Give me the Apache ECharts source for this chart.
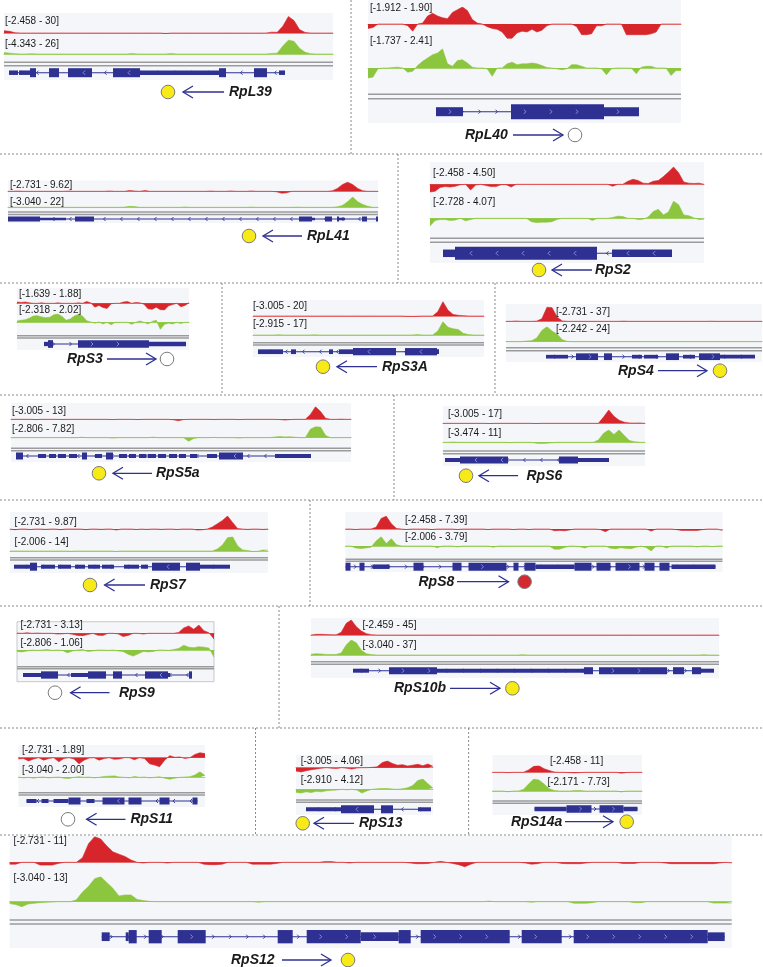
<!DOCTYPE html>
<html>
<head>
<meta charset="utf-8">
<script src="https://cdn.jsdelivr.net/npm/echarts@6/dist/echarts.min.js"></script>
<style>
  html, body { margin: 0; padding: 0; background: #fff; }
  #main { width: 763px; height: 967px; }
</style>
</head>
<body>
<div id="main"></div>
<script>
// panel order: left to right, top to bottom
var geneNames = ['RpL39','RpL40','RpL41','RpS2','RpS3','RpS3A','RpS4','RpS5a','RpS6','RpS7','RpS8','RpS9','RpS10b','RpS11','RpS13','RpS14a','RpS12'];
var strands = ['-','+','-','-','+','-','+','-','-','-','+','-','+','-','-','+','+'];
var calls = ['y','n','y','y','n','y','y','y','y','y','r','n','y','n','y','y','y'];
var redRanges = ['-2.458 - 30','-1.912 - 1.90','-2.731 - 9.62','-2.458 - 4.50','-1.639 - 1.88','-3.005 - 20','-2.731 - 37','-3.005 - 13','-3.005 - 17','-2.731 - 9.87','-2.458 - 7.39','-2.731 - 3.13','-2.459 - 45','-2.731 - 1.89','-3.005 - 4.06','-2.458 - 11','-2.731 - 11'];
var greenRanges = ['-4.343 - 26','-1.737 - 2.41','-3.040 - 22','-2.728 - 4.07','-2.318 - 2.02','-2.915 - 17','-2.242 - 24','-2.806 - 7.82','-3.474 - 11','-2.006 - 14','-2.006 - 3.79','-2.806 - 1.06','-3.040 - 37','-3.040 - 2.00','-2.910 - 4.12','-2.171 - 7.73','-3.040 - 13'];

// coverage tracks (binned along each locus)
var rpl39Red = [4,3,0.5,0,0,0,0,0,0,0, 0,0,0,0,0,0,0,0,0,0, 0,0,0,0,0,0,0,0,0,-0.8, 0,0,0,0,0,0,0,0,0,0, 0,0,0,0,0,0,0,0,1.5,1.2, 12,29,22,6,1,0,0,0,0,0];
var rpl39Green = [2.5,1.5,0.5,0,0,0.6,0,0,0,0, 0,0,0,0,0,0,0,0,0,0, 0,0,0,0.8,0,0,0,0,0,0, 0.7,0,0,0,0,0,0,0,0,0, 0,0,0,0,0,0,0,0,1,1.5, 14,24,22,10,3,0.5,0,0,0,0];
var rpl40Red = [-0.5,-0.4,0,0,0,0,0,0,-0.2,-0.8, 0,0.1,0.9,1.2,0.9,0.7,0.6,1.3,1.6,1.9, 1.5,0.5,0.1,0,-0.3,-0.5,-0.6,-0.9,-1.6,-1.6, -1.0,-0.8,-0.9,-0.6,-0.9,-0.7,-0.2,0,0,0, 0,0,-0.3,-1.2,-1.2,-1.1,-0.2,-0.2,0,0, 0,0,-1.2,-1.2,-1.2,-1.2,-1.2,-1.1,-0.9,0, 0,0,0,0];
var rpl40Green = [-1.2,-1.1,-0.1,0,0,0.05,0.1,0,-0.5,-0.4, 0.3,0.8,1.2,1.6,1.8,2.3,0.5,0.2,0.9,1.0, 0.6,0.1,0,0,-0.1,-1.0,0,0,0.5,0.7, 0.4,0.5,0.5,0.6,0.5,0.3,0.05,0,-0.1,-0.2, -0.1,0.4,0.4,0.2,0,0,0,-0.1,-0.8,-0.1, 0,0,0,0,-0.7,0.1,0.2,0.2,0,0, 0,-0.9,-0.3,-0.3];
var rpl41Red = [0,0,0.3,0,0,0,0,0,0,0, 0,0,0.3,0,0,0,0,0,0,0, 0.4,0,0,0,0.8,0.3,0,0.8,0,0, 0,0,0,0,0,0,0,0,0,0, 0.3,0,0,0,0.4,0,0,0,0.4,0, 0,0,0,-0.5,-2.0,-1.5,0,0,0,0, 0,0,0,0,0.5,3,7,9.5,7,3, 0.5,0,0,0];
var rpl41Green = [0,0,0,0,0,0,0,0,0,0, 0,0,0,0,0,0,0,0,0,0, 0,0,0,0.5,2,1.5,0,0,0,0, 0,0,0,0,0,0.8,0,0,0,0, 0,0,0,0,0,0,0,0,0.6,0, 0,0,0,0,0,0,0,0.5,0,0, 0,0,0,0,0,1,4,12,22,12, 6,2,0,0];
var rps2Red = [-2.0,-1.8,-0.8,-0.6,-0.7,-0.5,-0.1,0,-1.5,-0.2, 0,-0.3,-0.6,-0.6,-0.1,-0.1,-0.7,0,0,0, 0,0,0,0,0,0,0,0,0,0, 0,0,0,0,0,0,-0.5,0,0,0.8, 1.3,1.0,0.3,0.2,0.8,1.0,2.0,3.2,4.5,3.0, 0.6,0.3,0.2,0.3,0];
var rps2Green = [-1.8,-0.5,-0.3,-0.3,-0.5,-0.4,0,-0.6,-0.3,0, 0,0,0,0,0,0,0,0,0,0, -0.8,-1.0,-0.9,-0.9,-0.8,-0.3,0,0,0,0, 0,0,-0.5,0,0,0,0.2,0.5,0.4,0, 0,-0.3,-0.2,0.3,1.6,2.1,0.8,1.5,4.0,3.2, 0.8,0.6,0.1,-0.3,-0.2];
var rps3Red = [0.3,0.2,0.3,0.1,0,0,0.1,0,0,0, 0.1,0,0,0,0,0.1,0,0.4,0.1,-0.9, -0.5,-1.0,-1.2,-0.1,0,0,0.3,0.4,0,0.2, 0.1,-0.2,-1.3,-1.4,-0.9,-1.5,-1.6,-0.6,-0.3,0, -0.8,-0.5,0.1];
var rps3Green = [0.3,0.5,0.6,1.0,1.5,1.6,1.3,1.1,1.2,1.8, 2.0,1.4,0.5,0.8,1.5,1.9,1.5,0.4,0.1,-0.2, 0.1,-0.4,0,-0.6,0,0,0,0,-0.5,0, 0.3,0,-0.4,0.2,0.5,-1.7,-0.5,-0.2,-0.4,0, -0.3,0,0];
var rps3aRed = [0,0,0,0,0,0,0,0,0,0, 0,0,0,0,0,0,0,0,0,0, 0,0,0,0,0,0,0,0,0,0, -0.4,-0.5,-0.3,0,0,0,6,20,8,2, 1,0.5,0,0,0,0];
var rps3aGreen = [0,0,0,0,0,0.3,0,0,0,0, 0,0,0.3,0,0,0,0,0,0,0, 0,0,0,0,0,0,0,0,0,0, 0,0,0.5,0,0,0,5,17,10,8, 7,2,0.5,0,0,0];
var rps4Red = [0,0,0.8,0,0,0,0.5,6,34,33, 10,1,0,0,0,0,0,0,0,0, 0,0,0,0.5,0,0,0,0,0,0, 0,0,0,0,0,0,0,0,0,0, 0.3,0,0,0,0,0,0,0,0,0, 0];
var rps4Green = [0,0,0,0,1,1.5,6,18,24,17, 12,3,0.5,0,0,0,0,0,0,0, 0,0,0,0,0,0,0,0,0,0, 0,0,0,0,0,0,0,0,0,0, 0,0,0,0,0,0,0,0,0,0, 0];
var rps5aRed = [0,0,0,0,0,-0.3,0,0,0,0, -0.2,0,0,0,0,0,0,0,0,0, -0.3,0,0,0,0,-0.3,0,0,0,0, 0,0,-0.5,-1.5,-0.3,0,0,0,0,0, -0.2,0,0,0,0,-0.3,0,0,0,0, 0,0,0,-0.3,-0.8,-0.3,0,0,0,5, 13,8,1,0,0,0.2,0,0];
var rps5aGreen = [0,0,0,0,0,0,0,0,0,0, 0,0,0,0,0.3,0,0,0,0,0, -0.3,0,0,0,0,0,0,0,0.4,0, 0,0,0,0,0,-2.5,-0.5,0,0,0, 0.2,0,0,0,0,-0.3,0,0,0,0, 0,0,0.5,0.8,0.5,0.6,0.3,0,0,6, 7.8,7.5,1.5,0,0,0,0,0];
var rps6Red = [0,0,0,0,0,0,0,0,0,-0.3, 0,0,0,0,0,0,0,0,-0.3,0, 0,0,0,0,0,0,0,0,0,0, 0,8,17,9,4,1.5,0.5,0.3,0.5,0];
var rps6Green = [0,0,0.3,0,0,0,0,0,0,0, 0,0,0,-0.3,0,0,0,0,-0.8,-1.0, -0.9,-0.4,0,0,0,0,0,0,0,0, 2,8,11,7,11,6,1.5,0.5,0,0];
var rps7Red = [0,-0.6,0,0,-0.4,0,0,-0.3,0,0, -0.5,0,0,0,0,-0.5,0,0,-0.3,0, 0,-0.8,0,0,0,-0.4,0,-0.3,0,0, -0.3,0,0,-0.4,0,0,0,-0.8,-0.6,0, 1.5,4,6.5,9.8,5,0.3,0,-0.3,0,0, -0.3,0];
var rps7Green = [0,0,0,0,0,0,0,0,0,0, 0,0,-0.3,0,0,0,0,0,0,0, 0,-0.5,0,0,0,0,0,0,0,0, 0,0,0,0,0,0,0,0,0,0, 0,2,6,13,14,5,1,0.5,-0.5,-0.3, 1.0,0.8];
var rps8Red = [0,0,-0.3,0,0,0,1,6,7.3,3, 0.3,0,-0.3,0,0,0,0,-0.3,0,0, 0,0,-0.3,0,0,0,0,0,-0.3,0, 0,0,0,-0.3,0,0,-0.3,0,0,0, 0,-1.0,-0.8,-1.0,-0.5,0,0,0,0,0, -0.3,-1.5,0,0,0,0,0,0,0,0, -1.2,0,0,0,0,-0.4,-0.8,-0.8,-0.8,-0.8, -0.4,0,0,0,-1.0];
var rps8Green = [0,0,-0.8,-1.0,-0.8,-0.5,2,3.8,1,3.0, 0.5,0,0,0,0,0,0,0,-0.7,0, 0,0,-0.4,0,0,0,0,0,0,-0.5, 0,0,0,0,0,0,0,0,0,0, 0,-1.3,-1.3,-0.6,0,0,-0.3,-0.8,0,0, 0,0,-0.9,-1.1,-0.7,-0.9,-1.1,-0.5,0,-0.6, -2.0,0,0,-0.8,0,0,0,0,0,-0.4, 0,0,-0.3,0,0];
var rps9Red = [0.1,0,0.2,0,0.1,0,0,0,-0.3,-0.2, 0,-0.4,-0.8,-0.9,-0.5,0,-0.7,-0.8,0,0, -0.2,-1.2,-0.8,0,0,-0.3,0,0,0,0, 0,0,0.3,2.0,2.8,1.5,3.1,1.0,0.2,-2.2];
var rps9Green = [-0.3,-0.4,-0.2,0,-0.1,0,0.1,-0.1,0,-0.1, -0.6,-0.2,0,0.1,-0.3,-0.2,0,0,-0.1,0, -0.2,-0.3,-0.9,-1.3,-0.8,-0.3,-0.4,-0.3,0,0, -0.1,0.1,0.3,1.0,0.6,0.5,0.7,0.6,0.4,-1.5];
var rps10bRed = [0,2,2,1.5,1,0.5,8,35,45,25, 12,4,1,0,0,0,0,0,0,0, 0,0,0,0,0,0,0,0,0,0, 0,0,0,0,0,0,0,0,0,0, 0,0,0,0,0,0,0,0,0,0, 0,0,0,0,0,0,0,0,0,0, 0,0,0,0,0,0,0,0,0,0, 0,0,0,0,0,0,0,0,0,0, 0,0];
var rps10bGreen = [2,3,2.5,1.5,1,1.5,5,25,37,30, 12,3,1,0,0,0,0,0,0,0, 0,0,0,0,0,0,0,0,0,0, 0,0,0,0,0,0,0,0,0,0, 0,0,0.8,0,0,0,0,0,0,0, 0,0,0,0,0,0,0,0,0,0, 0,0,0,0,0,0,0,0,0,0, 0,0,0,0,0,0,0,0,0.8,0, 0,0];
var rps11Red = [-0.3,-0.2,-0.8,-0.3,0,-0.6,-0.2,0,-1.0,-0.2, 0,-0.3,-1.5,-0.6,-0.1,0,-0.6,-0.2,0,-0.4, -0.3,0,0,-0.5,0,-0.2,-1.5,-1.8,-2.2,-0.6, 0.5,0.1,0.2,-0.2,0,0.8,1.2,1.0];
var rps11Green = [0.1,-0.2,0,-0.3,0,0.1,-0.2,0,0.1,-0.3, -0.4,0,0.2,0,0.1,-0.2,0,0.3,0.4,0.5, 0.1,0,-0.2,0.3,0,0.1,-0.2,0,0.2,-0.3, -0.7,-0.3,0,0.1,0.2,0.8,2.0,0.6];
var rps13Red = [-2.0,-2.5,-1.8,-1.2,-0.8,-0.3,0,-0.3,-0.5,0, -0.3,-0.8,-0.2,0,0,0.2,0.5,3.0,4.0,2.5, 1.5,1.8,1.0,1.5,2.0,1.2,2.2,0.8];
var rps13Green = [-1.2,-1.5,-1.0,-1.3,-0.8,-1.0,-0.6,-0.4,-0.3,0, -0.2,0,-0.3,-1.5,-0.6,0,0.2,0.3,0.3,0.1, 0,0.2,0.6,1.5,3.5,4.1,2.2,0.5];
var rps14aRed = [0,0,0,-0.5,0,0,0,4,10,11, 6,3,0.5,0,0,-0.6,-1.0,-0.5,0,0, 0,0,0,0,0,-1.5,-0.3,0,0,0];
var rps14aGreen = [0,0,0,-0.5,0,0,1,4.5,7.7,7.0, 4.5,1.5,0.3,0,0,0,0.3,0.3,0,0, 0,0,0,0,0,-0.6,0,0,0,0];
var rps12Red = [-0.8,-0.8,0,0,0,-1.2,-1.2,-1.2,-0.5,0, 0,0,2,8,11,10,7,4.5,3.5,2.5, 1.0,0,-0.3,0,0,0,-0.3,0,0,0, 0,0,-0.8,-1.0,-1.0,-0.8,0,0,0,0, -0.8,-0.8,-0.8,-0.8,-0.5,0,0,0,0,0, 0,0,0.3,0.3,0,0,-0.3,0,0,0, 0,0,0,0,0,0,-0.3,-0.6,-0.6,-0.5, 0,0.4,0,-0.5,-1.0,-1.9,-0.8,0,0,0, 0,0,0,0,0,-0.3,-0.8,-0.6,0,0, 0,-0.5,-0.6,-0.6,-0.6,-0.3,0,0,0,0, 0,-0.5,-0.5,-0.5,0,0,0,0,-0.3,-0.6, -0.6,-0.6,-0.6,-0.6,-0.6,-0.6,-0.6,-0.3,0,-0.3];
var rps12Green = [-1.0,-1.5,-2.6,-1.2,-0.8,-0.5,-0.3,-0.2,0,0, 0,1,5,8,12,13,10,7,3,3.5, 3.5,1.2,0.6,0.2,0,0,0,0,0,0, 0,0,0,0,0,0,0,0,0,0, 0,-0.3,0,0,0,0,0,0,0,0, 0,0,0,0,0,0,0,0,0,0, 0,0,0,0,0,0,0,0,0,0, 0,0,0,0,0,0,0,0,0,0.3, 0,0,0,0,0,0,-0.3,0,0,0, 0,0,0,-0.8,-0.8,-0.8,-0.5,0,0,0, 0,0,0,-0.5,-0.5,0,0,0,0,0, 0,0,0,0,0,0,-0.7,-0.7,-0.7,-0.7];

// gene models: [start, end, 'e' coding exon | 'u' UTR], in track units
var rpl39Gene = [[5,14,'u'],[15,26,'u'],[26,32,'e'],[45,55,'e'],[64,88,'e'],[109,136,'e'],[136,215,'u'],[215,222,'e'],[250,263,'e'],[275,281,'u']];
var rpl40Gene = [[68,95,'u'],[143,236,'e'],[236,271,'u']];
var rpl41Gene = [[0,32,'e'],[32,58,'u'],[67,86,'e'],[291,304,'e'],[304,307,'u'],[317,324,'e'],[329,331,'e'],[331,337,'u'],[354,359,'e'],[368,370,'e']];
var rps2Gene = [[13,25,'u'],[25,167,'e'],[182,242,'u']];
var rps3Gene = [[27,31,'u'],[31,36,'e'],[61,132,'e'],[132,169,'u']];
var rps3aGene = [[5,30,'u'],[38,43,'u'],[76,80,'u'],[86,100,'u'],[100,143,'e'],[152,184,'e'],[184,186,'u']];
var rps4Gene = [[40,62,'u'],[70,92,'e'],[98,106,'e'],[126,136,'u'],[138,152,'u'],[160,173,'e'],[177,189,'u'],[193,214,'e'],[214,249,'u']];
var rps5aGene = [[5,12,'e'],[27,35,'u'],[38,45,'u'],[47,55,'u'],[58,66,'u'],[71,76,'e'],[84,91,'u'],[95,102,'e'],[108,116,'u'],[118,125,'u'],[128,135,'u'],[137,145,'u'],[147,155,'u'],[158,166,'u'],[168,175,'u'],[179,186,'u'],[196,206,'u'],[208,232,'e'],[264,300,'u']];
var rps6Gene = [[2,17,'u'],[17,65,'e'],[116,135,'e'],[135,160,'u'],[160,166,'u']];
var rps7Gene = [[4,20,'u'],[20,27,'e'],[31,45,'u'],[48,61,'u'],[65,75,'u'],[78,90,'u'],[92,104,'u'],[114,129,'u'],[131,138,'u'],[142,170,'e'],[176,190,'e'],[190,220,'u']];
var rps8Gene = [[0,5,'e'],[14,19,'e'],[27,44,'u'],[68,78,'e'],[107,116,'e'],[123,161,'e'],[168,173,'e'],[179,190,'e'],[190,229,'u'],[229,246,'e'],[251,265,'e'],[270,294,'e'],[299,309,'e'],[314,324,'e'],[326,370,'u']];
var rps9Gene = [[6,24,'u'],[24,41,'e'],[54,71,'u'],[71,89,'e'],[96,105,'e'],[128,151,'e'],[151,153,'u'],[172,175,'e']];
var rps10bGene = [[42,58,'u'],[78,126,'e'],[126,273,'u'],[273,282,'e'],[288,356,'e'],[362,373,'e'],[381,390,'e'],[390,403,'u']];
var rps11Gene = [[8,18,'u'],[23,30,'u'],[35,50,'u'],[50,62,'e'],[68,76,'u'],[84,106,'e'],[110,123,'e'],[141,151,'e'],[174,179,'e']];
var rps13Gene = [[10,45,'u'],[45,78,'e'],[85,97,'e'],[122,135,'u']];
var rps14aGene = [[42,74,'u'],[74,99,'e'],[107,131,'e'],[131,145,'u']];
var rps12Gene = [[92,100,'u'],[116,119,'u'],[119,127,'e'],[139,152,'e'],[168,196,'e'],[268,283,'e'],[297,351,'e'],[351,389,'u'],[389,401,'e'],[411,500,'e'],[512,552,'e'],[564,698,'e'],[698,715,'u']];

var redTracks = [rpl39Red,rpl40Red,rpl41Red,rps2Red,rps3Red,rps3aRed,rps4Red,rps5aRed,rps6Red,rps7Red,rps8Red,rps9Red,rps10bRed,rps11Red,rps13Red,rps14aRed,rps12Red];
var greenTracks = [rpl39Green,rpl40Green,rpl41Green,rps2Green,rps3Green,rps3aGreen,rps4Green,rps5aGreen,rps6Green,rps7Green,rps8Green,rps9Green,rps10bGreen,rps11Green,rps13Green,rps14aGreen,rps12Green];
var geneModels = [rpl39Gene,rpl40Gene,rpl41Gene,rps2Gene,rps3Gene,rps3aGene,rps4Gene,rps5aGene,rps6Gene,rps7Gene,rps8Gene,rps9Gene,rps10bGene,rps11Gene,rps13Gene,rps14aGene,rps12Gene];

// page layout of each panel (pixels)
var layout = [
  {tx:4, tw:329, rb:33, rh:18.4, rl:[5,21.7], gb:54, gh:17.5, gl:[5,44.3], dl:62.3, dg:3.4, gy:72.7, eh:9, uh:4.5, ny:92, nx:229, ax:[224,183], cx:168, bg:[13,80]},
  {tx:368, tw:313, rb:24, rh:34, rl:[370,8], gb:68, gh:34.4, gl:[370,41.7], dl:94.3, dg:4.4, gy:111.7, eh:15, uh:9, ny:135, nx:465, ax:[513,563], cx:575, bg:[0,123]},
  {tx:8, tw:370, rb:191.3, rh:11.9, rl:[10,185], gb:207.3, gh:11.7, gl:[10,202], dl:212, dg:2.5, gy:219, eh:5, uh:2.5, ny:236, nx:307, ax:[302,263], cx:249, bg:[180.5,223]},
  {tx:430, tw:274, rb:184.3, rh:26.8, rl:[433,173], gb:218.3, gh:28.9, gl:[433,202], dl:238.3, dg:4, gy:253.3, eh:13, uh:7.5, ny:270, nx:595, ax:[592,552], cx:539, bg:[162,263]},
  {tx:17, tw:172, rb:303.3, rh:15, rl:[19,294], gb:322.3, gh:18, gl:[19,310.7], dl:335.7, dg:2.2, gy:344, eh:7.7, uh:4.3, ny:359, nx:67, ax:[107,156], cx:167, bg:[288,350]},
  {tx:253, tw:231, rb:316, rh:16.5, rl:[253,306.7], gb:335, gh:15.5, gl:[253,324.3], dl:342.7, dg:2.4, gy:351.7, eh:7.3, uh:4.7, ny:366.7, nx:382, ax:[377,337], cx:323, bg:[300,357]},
  {tx:506, tw:256, rb:321.3, rh:16.4, rl:[556,312.3], gb:341.7, gh:16.4, gl:[556,329.3], dl:347.7, dg:3, gy:356.7, eh:6.7, uh:3.7, ny:370.7, nx:618, ax:[658,707], cx:720, bg:[304,362]},
  {tx:11, tw:340, rb:419.3, rh:15.5, rl:[12,411.7], gb:437.7, gh:15, gl:[12,429.3], dl:448.3, dg:2.4, gy:456, eh:7, uh:4, ny:473.3, nx:156, ax:[152,113], cx:99, bg:[403,462]},
  {tx:443, tw:202, rb:423.3, rh:15.6, rl:[448,414.3], gb:442.3, gh:16.2, gl:[448,433.3], dl:451, dg:2.7, gy:460, eh:7, uh:4, ny:475.7, nx:526.5, ax:[518,479], cx:466, bg:[406,466]},
  {tx:10, tw:258, rb:529, rh:16.6, rl:[14.6,522.3], gb:551, gh:16.3, gl:[14.6,542.7], dl:557.7, dg:2.3, gy:566.7, eh:8, uh:4, ny:585, nx:150, ax:[145,104.6], cx:90, bg:[512,573]},
  {tx:345.5, tw:377, rb:529, rh:17.3, rl:[405,520.7], gb:546, gh:14.2, gl:[405,537.3], dl:559.3, dg:2, gy:566.7, eh:8, uh:4.5, ny:581.7, nx:418.5, ax:[457,508.5], cx:524.6, bg:[512,572]},
  {tx:17, tw:197, rb:633.3, rh:15.5, rl:[20.4,625], gb:650, gh:18.2, gl:[20.4,643.3], dl:666.7, dg:2, gy:675, eh:7.3, uh:4, ny:692.7, nx:119, ax:[109.5,70.6], cx:55, bg:[621.7,681.7], frame:true},
  {tx:311, tw:408, rb:635, rh:15.8, rl:[362.5,625], gb:655, gh:16.2, gl:[362.5,645], dl:661.7, dg:2.6, gy:670.7, eh:7, uh:4, ny:688.3, nx:394, ax:[450,500], cx:512.4, bg:[618,678]},
  {tx:18.5, tw:186.5, rb:757.7, rh:18.9, rl:[22,750], gb:777.3, gh:14.1, gl:[22,770], dl:792.7, dg:2.3, gy:801, eh:7, uh:4, ny:819.3, nx:130.4, ax:[125.5,86.6], cx:68, bg:[745,807]},
  {tx:296, tw:137, rb:767.7, rh:12, rl:[300.7,761.7], gb:789.3, gh:17.6, gl:[300.7,780], dl:800, dg:2.3, gy:809.3, eh:8, uh:4, ny:823.3, nx:359, ax:[354,314], cx:302.7, bg:[755,815]},
  {tx:492.5, tw:149.5, rb:772.3, rh:8.1, rl:[550,761.7], gb:791, gh:15.4, gl:[547.4,782.3], dl:801, dg:2.3, gy:809, eh:7.5, uh:4.5, ny:821.7, nx:511, ax:[565,613], cx:626.7, bg:[755,815]},
  {tx:9.7, tw:722, rb:862.3, rh:32, rl:[13.6,841], gb:901.7, gh:30.8, gl:[13.6,878.3], dl:920, dg:4, gy:936.7, eh:13.3, uh:8.7, ny:960, nx:231, ax:[282,331], cx:348, bg:[836,948]}
];
var hDash = [154, 283, 395, 500, 606, 728, 835];
var vDash = [[351,0,154],[398,154,283],[222,283,395],[495,283,395],[394,395,500],[310,500,606],[279,606,728],[255.5,728,835],[468.6,728,835]];

var BLUE = '#2e3192';
var RED = '#d7262b';
var GREEN = '#8cc63e';
var FONT = '"Liberation Sans", Arial, sans-serif';
var callColor = {y: '#f7ea16', n: '#ffffff', r: '#d42a2f'};

var grids = [], xAxes = [], yAxes = [], series = [], graphics = [];

function addSignal(values, rangeText, L, base, h, color, axisColor) {
  var p = rangeText.split(' - ');
  var lo = parseFloat(p[0]), hi = parseFloat(p[1]);
  var i = grids.length;
  grids.push({left: L.tx, width: L.tw, top: base - h * hi / (hi - lo), height: h});
  xAxes.push({
    type: 'category', gridIndex: i, boundaryGap: false,
    data: values.map(function (v, k) { return k; }),
    axisLine: {show: true, onZero: true, lineStyle: {color: axisColor, width: 1}},
    axisTick: {show: false}, axisLabel: {show: false}, splitLine: {show: false}
  });
  yAxes.push({type: 'value', gridIndex: i, min: lo, max: hi, show: false});
  series.push({
    type: 'line', xAxisIndex: i, yAxisIndex: i, data: values, symbol: 'none', silent: true,
    lineStyle: {color: color, width: 0.6}, areaStyle: {color: color, opacity: 1}
  });
}

function addGene(rows, L, dir) {
  var i = grids.length;
  grids.push({left: L.tx, width: L.tw, top: L.gy - 10, height: 20});
  xAxes.push({type: 'value', gridIndex: i, min: 0, max: L.tw, show: false});
  yAxes.push({type: 'value', gridIndex: i, min: -10, max: 10, show: false});
  var first = Math.min.apply(null, rows.map(function (r) { return r[0]; }));
  var last = Math.max.apply(null, rows.map(function (r) { return r[1]; }));
  var data = [[first, last, 0]].concat(rows.map(function (r) { return [r[0], r[1], r[2] === 'e' ? 2 : 1]; }));
  series.push({
    type: 'custom', xAxisIndex: i, yAxisIndex: i, data: data, silent: true,
    renderItem: function (params, api) {
      var a = api.coord([api.value(0), 0]);
      var b = api.coord([api.value(1), 0]);
      var k = api.value(2);
      var h = k === 2 ? L.eh : (k === 1 ? L.uh : 1);
      var kids = [{type: 'rect', shape: {x: a[0], y: a[1] - h / 2, width: b[0] - a[0], height: h}, style: {fill: BLUE}}];
      // strand chevrons: blue along introns, pale inside tall exons
      var step = k === 0 ? 17 : 26;
      var s = k === 0 ? 2 : 2.2;
      if (k === 0 || h >= 6.5) {
        for (var x = a[0] + step / 2 + 2; x < b[0] - 4; x += step) {
          kids.push({type: 'polyline', shape: {points: [[x - dir * s, a[1] - s], [x, a[1]], [x - dir * s, a[1] + s]]},
            style: {stroke: k === 0 ? BLUE : '#8f95d8', fill: null, lineWidth: 0.9}});
        }
      }
      return {type: 'group', children: kids};
    }
  });
}

function label(x, y, str, font) {
  return {type: 'text', x: x, y: y, z: 20, silent: true,
    style: {text: str, font: font, fill: '#1a1a1a', align: 'left', verticalAlign: 'middle', textAlign: 'left', textVerticalAlign: 'middle'}};
}

layout.forEach(function (L, k) {
  graphics.push({type: 'rect', z: -1, silent: true, shape: {x: L.tx, y: L.bg[0], width: L.tw, height: L.bg[1] - L.bg[0]},
    style: {fill: '#f4f6f9', stroke: L.frame ? '#c9c9c9' : null, lineWidth: 1}});
  addSignal(redTracks[k], redRanges[k], L, L.rb, L.rh, RED, '#e98585');
  addSignal(greenTracks[k], greenRanges[k], L, L.gb, L.gh, GREEN, '#a6d471');
  addGene(geneModels[k], L, strands[k] === '+' ? 1 : -1);
  [L.dl, L.dl + L.dg].forEach(function (y) {
    graphics.push({type: 'line', z: 5, silent: true, shape: {x1: L.tx, y1: y, x2: L.tx + L.tw, y2: y}, style: {stroke: '#9b9b9b', lineWidth: 1.5}});
  });
  graphics.push(label(L.rl[0], L.rl[1], '[' + redRanges[k] + ']', '10px ' + FONT));
  graphics.push(label(L.gl[0], L.gl[1], '[' + greenRanges[k] + ']', '10px ' + FONT));
  graphics.push(label(L.nx, L.ny, geneNames[k], 'italic bold 14px ' + FONT));
  var d = L.ax[1] > L.ax[0] ? 1 : -1;
  graphics.push({type: 'line', z: 6, silent: true, shape: {x1: L.ax[0], y1: L.ny, x2: L.ax[1], y2: L.ny}, style: {stroke: BLUE, lineWidth: 1.3}});
  graphics.push({type: 'polyline', z: 6, silent: true,
    shape: {points: [[L.ax[1] - d * 10, L.ny - 6], [L.ax[1], L.ny], [L.ax[1] - d * 10, L.ny + 6]]},
    style: {stroke: BLUE, fill: null, lineWidth: 1.3}});
  graphics.push({type: 'circle', z: 6, silent: true, shape: {cx: L.cx, cy: L.ny, r: 6.8}, style: {fill: callColor[calls[k]], stroke: '#7a7a7a', lineWidth: 1}});
});

hDash.forEach(function (y) {
  graphics.push({type: 'line', z: 5, silent: true, shape: {x1: 0, y1: y, x2: 763, y2: y}, style: {stroke: '#8a8a8a', lineWidth: 1, lineDash: [2, 2]}});
});
vDash.forEach(function (v) {
  graphics.push({type: 'line', z: 5, silent: true, shape: {x1: v[0], y1: v[1], x2: v[0], y2: v[2]}, style: {stroke: '#8a8a8a', lineWidth: 1, lineDash: [2, 2]}});
});

var chart = echarts.init(document.getElementById('main'));
chart.setOption({
  backgroundColor: '#ffffff',
  animation: false,
  grid: grids,
  xAxis: xAxes,
  yAxis: yAxes,
  series: series,
  graphic: {elements: graphics}
});
</script>
</body>
</html>
